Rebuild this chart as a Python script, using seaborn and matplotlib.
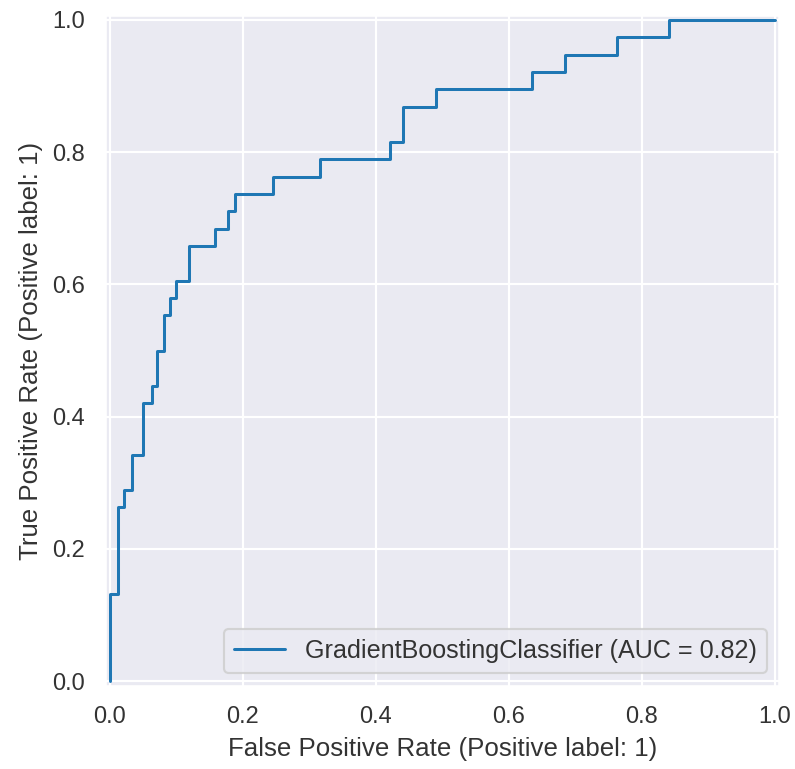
import matplotlib
matplotlib.use("Agg")
import matplotlib.pyplot as plt
import seaborn as sns
import pandas as pd

# ROC curve vertices
fpr = [0.0, 0.0, 0.012, 0.021, 0.033, 0.050, 0.063, 0.070, 0.081, 0.090, 0.100,
       0.119, 0.158, 0.178, 0.188, 0.245, 0.316, 0.421, 0.441, 0.490, 0.635,
       0.684, 0.762, 0.841, 1.0]
tpr = [0.0, 0.132, 0.263, 0.289, 0.342, 0.421, 0.447, 0.500, 0.553, 0.579, 0.605,
       0.658, 0.684, 0.711, 0.737, 0.763, 0.789, 0.816, 0.868, 0.895, 0.921,
       0.947, 0.974, 1.0, 1.0]
label = "GradientBoostingClassifier (AUC = 0.82)"
xticks = [0.0, 0.2, 0.4, 0.6, 0.8, 1.0]
yticks = [0.0, 0.2, 0.4, 0.6, 0.8, 1.0]

sns.set_theme(context="notebook", style="darkgrid")
plt.rcParams['font.family'] = ['Liberation Sans', 'DejaVu Sans']

df = pd.DataFrame({"fpr": fpr, "tpr": tpr})

DPI = 155
fig = plt.figure(figsize=(795 / DPI, 769 / DPI), dpi=DPI)
ax = fig.add_axes([0.1325, 0.1083, 0.848, 0.8718])
sns.lineplot(data=df, x="fpr", y="tpr", sort=False, estimator=None,
             drawstyle="steps-post", color="#1f77b4", linewidth=1.4,
             label=label, ax=ax)

ax.set_xlim(-0.007, 1.007)
ax.set_ylim(-0.007, 1.007)
ax.set_xticks(xticks)
ax.set_yticks(yticks)
ax.set_xticklabels([f"{v:.1f}" for v in xticks])
ax.set_yticklabels([f"{v:.1f}" for v in yticks])
ax.tick_params(labelsize=11, colors="#333333")
ax.set_xlabel("False Positive Rate (Positive label: 1)", fontsize=12, color="#333333")
ax.set_ylabel("True Positive Rate (Positive label: 1)", fontsize=12, color="#333333")
leg = ax.legend(loc="lower right", fontsize=11.7, handlelength=2.0)
for t in leg.get_texts():
    t.set_color("#333333")

fig.savefig("out.png", dpi=DPI)
